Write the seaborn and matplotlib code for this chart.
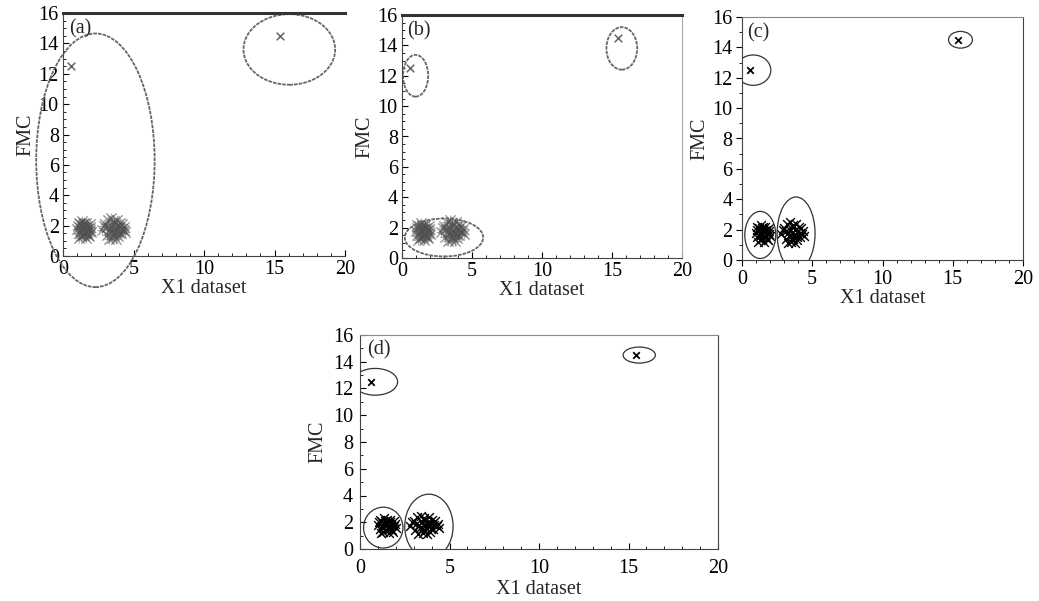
import matplotlib
matplotlib.use("Agg")
import matplotlib.pyplot as plt
import seaborn as sns
import pandas as pd
from matplotlib.patches import Ellipse
from matplotlib.ticker import MultipleLocator

# ---- data ----
c1_x = [1.0, 1.1, 1.2, 1.3, 1.4, 1.5, 1.6, 1.7, 1.8, 1.9, 1.15, 1.35, 1.55,
        1.75, 1.95, 1.05, 1.25, 1.45, 1.65, 1.85, 1.3, 1.5, 1.7, 1.4, 1.6,
        2.0, 1.1, 1.9]
c1_y = [1.8, 1.5, 2.1, 1.3, 1.9, 2.2, 1.6, 2.0, 1.4, 1.7, 1.2, 2.3, 1.5,
        1.8, 1.9, 2.0, 1.7, 1.4, 2.2, 1.3, 1.6, 1.9, 1.5, 2.1, 1.2,
        1.6, 2.2, 2.1]
c2_x = [2.8, 3.0, 3.1, 3.2, 3.3, 3.4, 3.5, 3.6, 3.7, 3.8, 3.9, 4.0, 4.1, 4.2,
        4.3, 4.4, 3.25, 3.45, 3.65, 3.85, 4.05, 3.55, 3.75, 3.95, 3.35, 3.15, 4.15, 3.6,
        2.9, 4.35, 3.45, 3.8]
c2_y = [1.7, 2.1, 1.4, 2.4, 1.8, 2.5, 1.2, 2.2, 1.6, 2.0, 1.3, 1.9, 1.5, 2.1,
        1.7, 1.6, 1.1, 2.0, 1.4, 2.4, 2.2, 1.8, 1.1, 1.5, 1.6, 1.9, 1.8, 2.3,
        2.0, 1.9, 1.5, 1.7]
out_x = [0.6, 15.4]
out_y = [12.5, 14.5]

panel_labels = ["(a)", "(b)", "(c)", "(d)"]
x_ticks = [0, 5, 10, 15, 20]
y_ticks = [0, 2, 4, 6, 8, 10, 12, 14, 16]

# cluster ellipses per panel: (center x, center y, width, height)
ell_a = [(2.3, 6.3, 8.4, 16.7), (16.05, 13.6, 6.5, 4.65)]
ell_b = [(0.97, 12.0, 1.8, 2.75), (15.7, 13.8, 2.2, 2.8), (3.0, 1.35, 5.6, 2.5)]
ell_c = [(0.8, 12.5, 2.5, 2.0), (15.55, 14.5, 1.7, 1.1),
         (1.3, 1.65, 2.2, 3.1), (3.85, 1.75, 2.7, 4.8)]
ell_d = [(0.85, 12.5, 2.5, 2.0), (15.6, 14.5, 1.8, 1.2),
         (1.3, 1.6, 2.2, 3.05), (3.85, 1.7, 2.7, 4.8)]

df_clusters = pd.DataFrame({"x": c1_x + c2_x, "y": c1_y + c2_y})
df_out = pd.DataFrame({"x": out_x, "y": out_y})

sns.set_theme(style="white")
plt.rcParams["font.family"] = ["Liberation Serif", "DejaVu Serif"]

fig = plt.figure(figsize=(10.39, 6.01), dpi=100)
W, H = 1039, 601

def px_axes(l, t, r, b):
    return fig.add_axes([l / W, (H - b) / H, (r - l) / W, (b - t) / H])

axes_px = [(63, 13, 345, 256), (402, 15, 682, 258), (742, 17, 1023, 260), (360, 335, 718, 549)]
ells = [ell_a, ell_b, ell_c, ell_d]
tickdir = ["in", "in", "out", "in"]
FS = 14.5

for i, (box, lab) in enumerate(zip(axes_px, panel_labels)):
    ax = px_axes(*box)
    if i < 2:
        # fuzzy grey star-like blobs
        sns.scatterplot(data=df_clusters, x="x", y="y", ax=ax, marker="x", s=55,
                        color="#444444", linewidth=1.0, alpha=0.55, legend=False)
        sns.scatterplot(data=df_clusters, x="x", y="y", ax=ax, marker="+", s=60,
                        color="#555555", linewidth=0.9, alpha=0.45, legend=False)
        sns.scatterplot(data=df_out, x="x", y="y", ax=ax, marker="x", s=30,
                        color="#666666", linewidth=1.1, legend=False)
    else:
        sns.scatterplot(data=df_clusters, x="x", y="y", ax=ax, marker="x", s=40,
                        color="black", linewidth=1.0, legend=False)
        sns.scatterplot(data=df_out, x="x", y="y", ax=ax, marker="x", s=22,
                        color="black", linewidth=1.3, legend=False)
    for (cx, cy, w, h) in ells[i]:
        e = Ellipse((cx, cy), w, h, fill=False, edgecolor="#333333" if i >= 2 else "#666666",
                    lw=0.9 if i >= 2 else 1.3, linestyle="-" if i >= 2 else (0, (2, 0.6)))
        if i == 0:
            e.set_clip_on(False)
        ax.add_patch(e)
    ax.set_xlim(0, 20)
    ax.set_ylim(0, 16)
    ax.set_xticks(x_ticks)
    ax.set_yticks(y_ticks)
    ax.xaxis.set_minor_locator(MultipleLocator(1))
    ax.yaxis.set_minor_locator(MultipleLocator(0.5 if i < 2 else 1))
    ax.tick_params(which="both", direction=tickdir[i], labelsize=FS, colors="black",
                   bottom=True, left=True, pad=3)
    ax.tick_params(which="major", length=4, width=0.8)
    ax.tick_params(which="minor", length=2.5, width=0.6)
    if i == 3:
        ax.tick_params(axis="x", which="major", pad=7)
        ax.tick_params(axis="y", which="major", pad=5)
    ax.set_xlabel("X1 dataset", fontsize=FS, labelpad=2 if i == 3 else 0)
    ax.set_ylabel("FMC", fontsize=FS, labelpad=4 if i == 3 else 2)
    ax.text(0.02, 0.975, lab, transform=ax.transAxes, fontsize=FS, va="top", ha="left")
    for s in ax.spines.values():
        s.set_color("#444444")
        s.set_linewidth(0.8)
    if i < 2:
        ax.spines["top"].set_linewidth(2.2)
        ax.spines["top"].set_color("#333333")
    if i == 0:
        ax.spines["right"].set_visible(False)
    if i == 1:
        ax.spines["right"].set_color("#aaaaaa")
    if i >= 2:
        ax.spines["top"].set_color("#888888")

fig.savefig("out.png", dpi=100)
